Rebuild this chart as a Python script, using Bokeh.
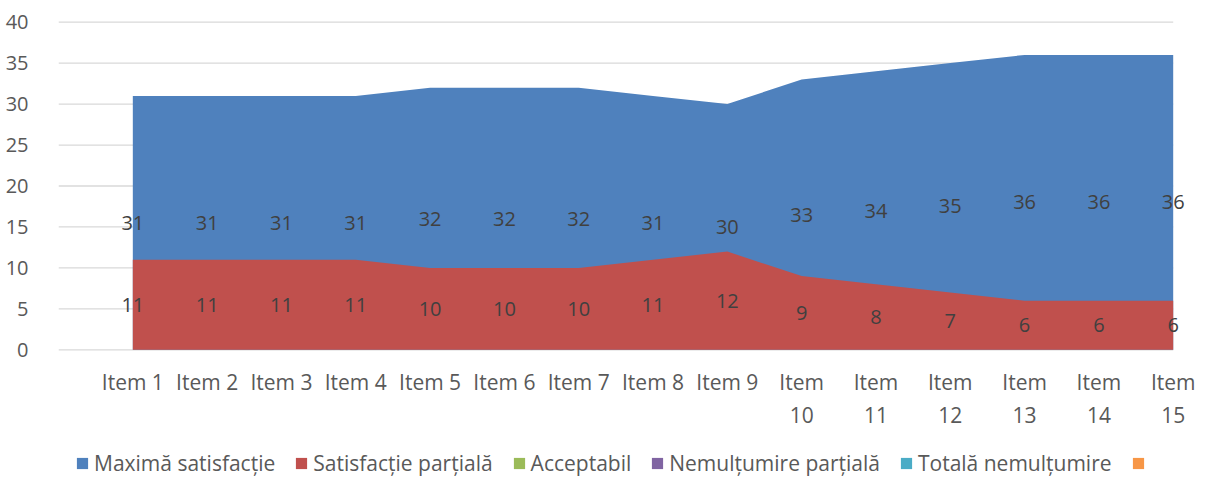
from bokeh.plotting import figure
from bokeh.models import Range1d, FixedTicker, Legend, LegendItem, ColumnDataSource
from bokeh.layouts import column
from bokeh.core.properties import value
from bokeh.embed import file_html
from bokeh.resources import INLINE

items = [f"Item {i}" for i in range(1, 16)]
maxima = [31, 31, 31, 31, 32, 32, 32, 31, 30, 33, 34, 35, 36, 36, 36]
partiala = [11, 11, 11, 11, 10, 10, 10, 11, 12, 9, 8, 7, 6, 6, 6]
zeros = [0] * 15
series_names = ["Maximă satisfacție", "Satisfacție parțială", "Acceptabil",
                "Nemulțumire parțială", "Totală nemulțumire", " "]
colors = ["#4F81BD", "#C0504D", "#9BBB59", "#8064A2", "#4BACC6", "#F79646"]
y_ticks = [0, 5, 10, 15, 20, 25, 30, 35, 40]

FONT = "Open Sans"
xs = list(range(1, len(items) + 1))

p = figure(width=1200, height=432, output_backend="svg", toolbar_location=None,
           x_range=Range1d(0, 15.3), y_range=Range1d(-0.2, 40.2),
           min_border_left=58, min_border_right=5, min_border_top=20, min_border_bottom=80)
p.outline_line_color = None
p.grid.visible = False

# gridlines
p.segment(x0=[0] * len(y_ticks), x1=[15] * len(y_ticks), y0=y_ticks, y1=y_ticks,
          line_color="#D9D9D9", line_width=1.3)

src = ColumnDataSource(dict(x=xs, m=maxima, s=partiala, z=zeros,
                            ml=[str(v) for v in maxima], sl=[str(v) for v in partiala],
                            my=[v / 2 for v in maxima], sy=[v / 2 for v in partiala]))

p.varea(x="x", y1=0, y2="m", source=src, fill_color=colors[0])
p.varea(x="x", y1=0, y2="s", source=src, fill_color=colors[1])

p.text(x="x", y="my", text="ml", source=src, text_align="center", text_baseline="middle",
       text_font=value(FONT), text_font_size="20px", text_color="#404040")
p.text(x="x", y="sy", text="sl", source=src, text_align="center", text_baseline="middle",
       text_font=value(FONT), text_font_size="20px", text_color="#404040")

# axes
p.yaxis.ticker = FixedTicker(ticks=y_ticks)
p.yaxis.axis_line_color = None
p.yaxis.major_tick_line_color = None
p.yaxis.minor_tick_line_color = None
p.yaxis.major_label_text_font = FONT
p.yaxis.major_label_text_font_size = "20px"
p.yaxis.major_label_text_color = "#595959"
p.yaxis.major_label_standoff = 24

p.xaxis.ticker = FixedTicker(ticks=xs)
p.xaxis.axis_line_color = None
p.xaxis.major_tick_line_color = None
p.xaxis.minor_tick_line_color = None
p.xaxis.major_label_text_font = FONT
p.xaxis.major_label_text_font_size = "21px"
p.xaxis.major_label_text_color = "#595959"
p.xaxis.major_label_standoff = 10
overrides = {}
for x, name in zip(xs, items):
    overrides[x] = name if x < 10 else name.replace(" ", "\n")
p.xaxis.major_label_overrides = overrides

# legend strip
lg = figure(width=1200, height=45, output_backend="svg", toolbar_location=None,
            x_range=Range1d(0, 1), y_range=Range1d(0, 1),
            min_border=0, min_border_left=0, min_border_right=0,
            min_border_top=0, min_border_bottom=0)
lg.axis.visible = False
lg.grid.visible = False
lg.outline_line_color = None
lsrc = ColumnDataSource(dict(x=[0, 1], z=[0, 0]))
lrs = [lg.varea(x="x", y1="z", y2="z", source=lsrc, fill_color=c) for c in colors]
legend = Legend(items=[LegendItem(label=n, renderers=[r]) for n, r in zip(series_names, lrs)],
                orientation="horizontal", location=(17, 0), nrows=1,
                glyph_width=14, glyph_height=14, label_standoff=5, spacing=19,
                label_text_font=FONT, label_text_font_size="21px", label_text_color="#595959",
                border_line_color=None, background_fill_alpha=0, padding=0, margin=0)
lg.add_layout(legend, "center")

open("out.html", "w").write(file_html(column(p, lg), INLINE))
